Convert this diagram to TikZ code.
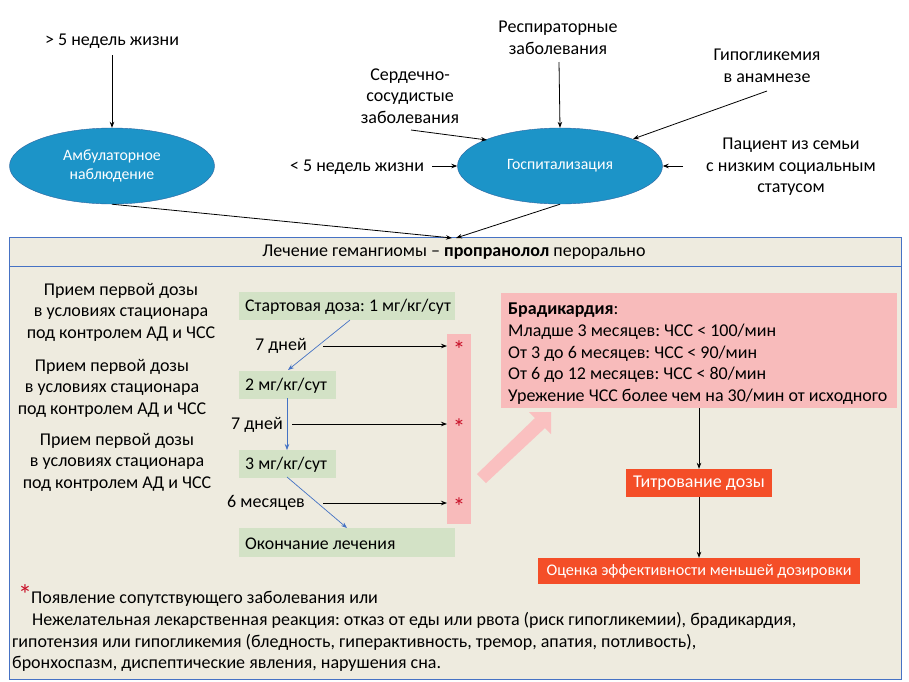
\documentclass[tikz,border=0pt]{standalone}
\usepackage{fontspec}
\setmainfont{Carlito}
\frenchspacing
\usetikzlibrary{arrows.meta,shapes.geometric}
\definecolor{ellblue}{RGB}{28,148,200}
\definecolor{ellborder}{RGB}{46,100,160}
\definecolor{boxfill}{RGB}{238,235,223}
\definecolor{boxborder}{RGB}{70,114,196}
\definecolor{grn}{RGB}{211,226,198}
\definecolor{pinkbox}{RGB}{248,187,187}
\definecolor{pinkarr}{RGB}{250,192,192}
\definecolor{orng}{RGB}{244,78,40}
\definecolor{bluearr}{RGB}{68,114,196}
\definecolor{starred}{RGB}{200,16,40}
\tikzset{
  txt/.style={inner sep=0pt, align=center, font=\fontsize{18}{21.5}\selectfont},
  ell/.style={ellipse, draw=ellborder, fill=ellblue, text=white, inner sep=0pt,
    minimum width=205pt, minimum height=76pt, align=center,
    font=\fontsize{15.8}{19}\selectfont},
  grnbox/.style={fill=grn, inner sep=0pt, anchor=west, minimum height=28pt},
  gtxt/.style={inner sep=0pt, anchor=west, font=\fontsize{17.8}{21.5}\selectfont},
  orbox/.style={fill=orng, text=white, inner sep=0pt, minimum height=27pt},
  arr/.style={-{Stealth[length=6pt,width=4.5pt]}, line width=0.8pt, black},
  barr/.style={-{Stealth[length=6pt,width=4.5pt]}, line width=0.7pt, bluearr},
  star/.style={text=starred, inner sep=0pt, font=\fontsize{25}{25}\selectfont},
  foot/.style={inner sep=0pt, anchor=west, font=\fontsize{18}{21}\selectfont}
}
\begin{document}
\begin{tikzpicture}[x=1pt,y=-1pt]
\useasboundingbox (0,0) rectangle (909,681);
\fill[white] (0,0) rectangle (909,681);

% outer box
\draw[fill=boxfill, draw=boxborder, line width=0.8pt] (9,237) rectangle (901,679);
\draw[boxborder, line width=0.8pt] (9,266) -- (901,266);
\node[txt] (hdr) at (454,252) {Лечение гемангиомы – \textbf{пропранолол} перорально};

% top ellipses
\node[ell] (amb) at (112,166) {Амбулаторное\\наблюдение};
\node[ell] (hosp) at (560,166) {Госпитализация};

% top labels
\node[txt] (gt5) at (112,41) {> 5 недель жизни};
\node[txt] (resp) at (558,38) {Респираторные\\заболевания};
\node[txt] (card) at (410,96) {Сердечно-\\сосудистые\\заболевания};
\node[txt] (hypo) at (767,66) {Гипогликемия\\в анамнезе};
\node[txt] (soc) at (791,167) {Пациент из семьи\\с низким социальным\\статусом};
\node[txt] (lt5) at (357,167) {< 5 недель жизни};

\coordinate (gt5b) at (112,55);
\coordinate (respb) at (559,62);
\coordinate (cardb) at (411,130);
\coordinate (cardt) at (487,140);
\coordinate (hypob) at (767,91);
\coordinate (hypot) at (633,139);
\coordinate (socl) at (683,166);
\coordinate (lt5r) at (432,166);
\coordinate (t1) at (452,238);
\coordinate (t2) at (456,238);

\draw[arr] (gt5b) -- (amb.north);
\draw[arr] (respb) -- (hosp.north);
\draw[arr] (cardb) -- (cardt);
\draw[arr] (hypob) -- (hypot);
\draw[arr] (socl) -- (hosp.east);
\draw[arr] (lt5r) -- (hosp.west);
\draw[arr] (amb.south) -- (t1);
\draw[arr] (hosp.south) -- (t2);

% left texts
\node[txt] (l1) at (121,312) {Прием первой дозы\\в условиях стационара\\под контролем АД и ЧСС};
\node[txt] (l2) at (112,388) {Прием первой дозы\\в условиях стационара\\под контролем АД и ЧСС};
\node[txt] (l3) at (117,462) {Прием первой дозы\\в условиях стационара\\под контролем АД и ЧСС};

% green boxes
\node[grnbox, minimum width=216pt] (g1) at (239,306) {};
\node[grnbox, minimum width=97pt] (g2) at (239,384.5) {};
\node[grnbox, minimum width=97pt] (g3) at (239,463.5) {};
\node[grnbox, minimum width=216pt, minimum height=29pt] (g4) at (239,542.5) {};
\node[gtxt] (g1t) at (245,307) {Стартовая доза: 1 мг/кг/сут};
\node[gtxt] (g2t) at (245,385.5) {2 мг/кг/сут};
\node[gtxt] (g3t) at (245,464.5) {3 мг/кг/сут};
\node[gtxt] (g4t) at (245,543.5) {Окончание лечения};

% pink bar
\node[fill=pinkbox, inner sep=0pt, minimum width=24pt, minimum height=190pt] (bar) at (459,429) {};
\node[star] (s1) at (459,350) {*};
\node[star] (s2) at (459,428) {*};
\node[star] (s3) at (459,507) {*};

% durations
\node[txt] (d1) at (281,346) {7 дней};
\node[txt] (d2) at (257,425) {7 дней};
\node[txt] (d3) at (266,503) {6 месяцев};
\coordinate (a1) at (323,346);
\coordinate (a2) at (292,424);
\coordinate (a3) at (323,503);
\coordinate (b1) at (447,346);
\coordinate (b2) at (447,424);
\coordinate (b3) at (447,503);
\coordinate (u1) at (350,320);
\coordinate (v1) at (288,370);
\coordinate (u2) at (287,398);
\coordinate (v2) at (287,450);
\coordinate (u3) at (287,477);
\coordinate (v3) at (347,528);

\draw[barr] (u1) -- (v1);
\draw[barr] (u2) -- (v2);
\draw[barr] (u3) -- (v3);

\draw[arr] (a1) -- (b1);
\draw[arr] (a2) -- (b2);
\draw[arr] (a3) -- (b3);

% big pink arrow
\fill[pinkarr] (477,474) -- (535,418) -- (529,412) -- (551,412) -- (551,434) -- (545,428) -- (486,483) -- cycle;

% bradycardia box
\node[fill=pinkbox, inner sep=0pt, minimum width=396pt, minimum height=115pt] (brad) at (699,350.5) {};
\node[inner sep=0pt, anchor=north west, align=left, font=\fontsize{18}{21.6}\selectfont] (bradt) at (508,303)
 {\textbf{Брадикардия}:\\Младше 3 месяцев: ЧСС < 100/мин\\От 3 до 6 месяцев: ЧСС < 90/мин\\От 6 до 12 месяцев: ЧСС < 80/мин\\Урежение ЧСС более чем на 30/мин от исходного};

\node[orbox, minimum width=146pt, minimum height=28pt, font=\fontsize{18}{20}\selectfont] (tit) at (699,483) {Титрование дозы};
\node[orbox, minimum width=322pt, minimum height=26pt, font=\fontsize{16.2}{18}\selectfont] (ots) at (699,571) {Оценка эффективности меньшей дозировки};

\draw[arr] (brad.south) -- (tit.north);
\draw[arr] (tit.south) -- (ots.north);

% footer
\node[star, font=\fontsize{28}{28}\selectfont] (fs) at (25,595) {*};
\node[foot] (f1) at (31,599) {Появление сопутствующего заболевания или};
\node[foot] (f2) at (32,620) {Нежелательная лекарственная реакция: отказ от еды или рвота (риск гипогликемии), брадикардия,};
\node[foot] (f3) at (12,642) {гипотензия или гипогликемия (бледность, гиперактивность, тремор, апатия, потливость),};
\node[foot] (f4) at (12,664) {бронхоспазм, диспептические явления, нарушения сна.};
\end{tikzpicture}
\end{document}
